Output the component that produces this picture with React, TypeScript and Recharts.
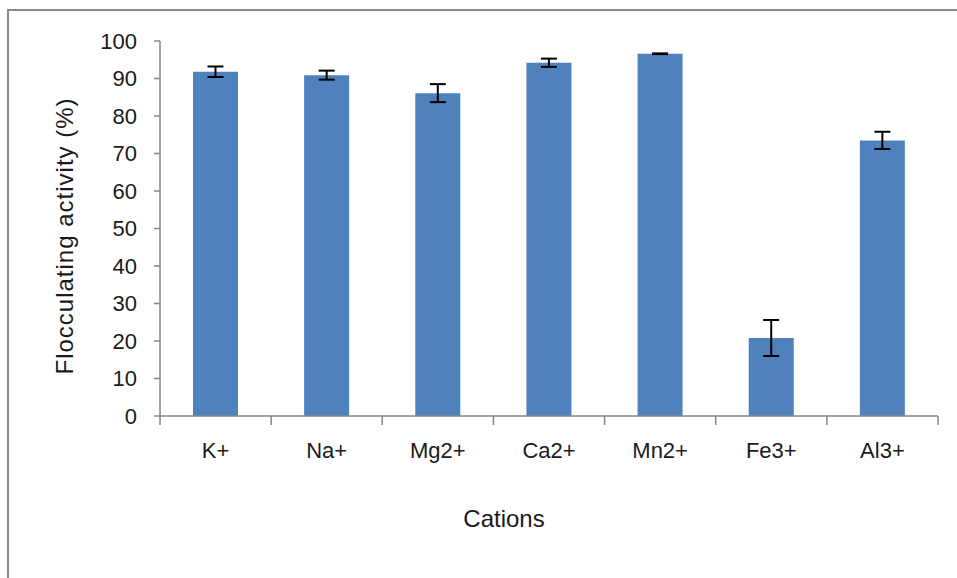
import React from 'react';
import { BarChart, Bar, XAxis, YAxis, ErrorBar } from 'recharts';

const cations = ['K+', 'Na+', 'Mg2+', 'Ca2+', 'Mn2+', 'Fe3+', 'Al3+'];
const activity = [91.8, 90.9, 86.1, 94.2, 96.6, 20.8, 73.5];
const errors = [1.4, 1.2, 2.4, 1.1, 0.1, 4.8, 2.3];
const yTicks = [0, 10, 20, 30, 40, 50, 60, 70, 80, 90, 100];

const W = 957;
const H = 578;
const margin = { top: 41, right: 19, bottom: 102, left: 100 };
const Y_AXIS_W = 60;
const PLOT_W = W - margin.left - Y_AXIS_W - margin.right;
const band = PLOT_W / cations.length;
const axisGray = '#868686';
const font = '"Liberation Sans", Arial, sans-serif';

const data = cations.map((name, i) => ({ name, value: activity[i], err: errors[i] }));

const CationTick = (props: any) => {
  const { x, y, payload, index } = props;
  const last = index === cations.length - 1;
  return (
    <g>
      <line x1={x - band / 2} y1={y} x2={x - band / 2} y2={y + 9} stroke={axisGray} strokeWidth={1.5} />
      {last && <line x1={x + band / 2} y1={y} x2={x + band / 2} y2={y + 9} stroke={axisGray} strokeWidth={1.5} />}
      <text x={x} y={y + 42} textAnchor="middle" fontSize={22} fill="#1a1a1a" fontFamily={font}>
        {payload.value}
      </text>
    </g>
  );
};

export default function App() {
  return (
    <div style={{ position: 'absolute', left: 0, top: 0, width: W, height: H, overflow: 'hidden', background: '#fff' }}>
      <div style={{ position: 'absolute', left: 7, top: 9, width: 1000, height: 700, border: '2px solid #898989' }} />
      <div style={{ position: 'absolute', left: 0, top: 0 }}>
        <BarChart width={W} height={H} data={data} margin={margin}>
          <XAxis
            dataKey="name"
            height={60}
            stroke={axisGray}
            strokeWidth={1.5}
            tickLine={false}
            tickSize={0}
            tickMargin={0}
            tick={<CationTick />}
            interval={0}
          />
          <YAxis
            width={Y_AXIS_W}
            domain={[0, 100]}
            ticks={yTicks}
            interval={0}
            stroke={axisGray}
            strokeWidth={1.5}
            tickSize={6}
            tickMargin={17}
            tick={{ fontSize: 22, fill: '#1a1a1a', fontFamily: font }}
          />
          <Bar dataKey="value" fill="#4F81BD" barSize={45} isAnimationActive={false}>
            <ErrorBar dataKey="err" width={8} stroke="#000" strokeWidth={2} isAnimationActive={false} />
          </Bar>
          <text
            x={64}
            y={236}
            transform="rotate(-90 64 236)"
            textAnchor="middle"
            dominantBaseline="central"
            fontSize={24}
            letterSpacing={1}
            fill="#1a1a1a"
            fontFamily={font}
          >
            Flocculating activity (%)
          </text>
          <text x={504} y={527} textAnchor="middle" fontSize={24} fill="#1a1a1a" fontFamily={font}>
            Cations
          </text>
        </BarChart>
      </div>
    </div>
  );
}
